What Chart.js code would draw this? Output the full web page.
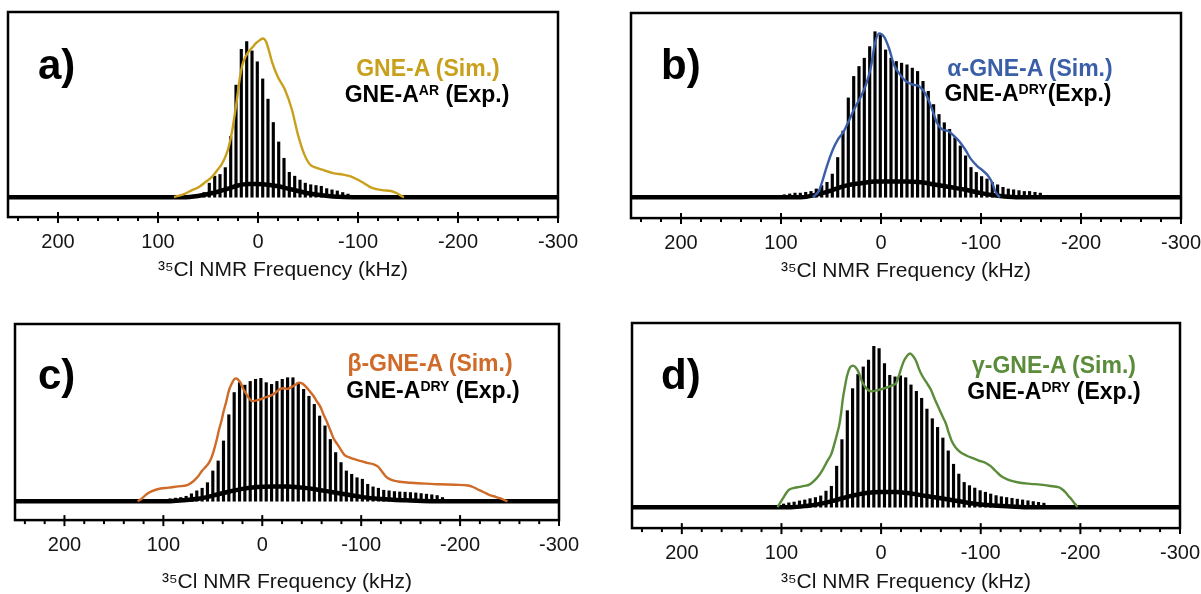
<!DOCTYPE html>
<html>
<head>
<meta charset="utf-8">
<script src="https://cdn.jsdelivr.net/npm/chart.js@4.4.1/dist/chart.umd.min.js"></script>
<style>
  body { margin: 0; background: #fff; }
  #wrap { position: relative; width: 1201px; height: 594px; overflow: hidden; font-family: "Liberation Sans", Arial, sans-serif; }
  #wrap canvas { position: absolute; left: 0; top: 0; }
  .tag { position: absolute; font-weight: bold; font-size: 42px; line-height: 42px; color: #000; }
  .key { position: absolute; width: 240px; text-align: center; font-weight: bold; font-size: 23px; line-height: 23px; white-space: nowrap; color: #000; }
  .key sup { font-size: 14px; line-height: 14px; vertical-align: top; }
</style>
</head>
<body>
<div id="wrap">
  <canvas id="pa" width="1201" height="594"></canvas>
  <canvas id="pb" width="1201" height="594"></canvas>
  <canvas id="pc" width="1201" height="594"></canvas>
  <canvas id="pd" width="1201" height="594"></canvas>

  <div class="tag" style="left:38px;top:44px">a)</div>
  <div class="key" style="left:308px;top:57px;color:#c9a01c">GNE-A (Sim.)</div>
  <div class="key" style="left:307px;top:83px">GNE-A<sup>AR</sup> (Exp.)</div>

  <div class="tag" style="left:661px;top:44px">b)</div>
  <div class="key" style="left:910px;top:57px;color:#3a5fa8">α-GNE-A (Sim.)</div>
  <div class="key" style="left:908px;top:82px">GNE-A<sup>DRY</sup>(Exp.)</div>

  <div class="tag" style="left:38px;top:354px">c)</div>
  <div class="key" style="left:310px;top:352px;color:#cf6a28">β-GNE-A (Sim.)</div>
  <div class="key" style="left:313px;top:379px">GNE-A<sup>DRY</sup> (Exp.)</div>

  <div class="tag" style="left:661px;top:354px">d)</div>
  <div class="key" style="left:934px;top:354px;color:#5a8c3a">γ-GNE-A (Sim.)</div>
  <div class="key" style="left:934px;top:380px">GNE-A<sup>DRY</sup> (Exp.)</div>
</div>

<script>
// frequency axis (kHz)
const tickKHz = [240, 220, 200, 180, 160, 140, 120, 100, 80, 60, 40, 20, 0, -20, -40, -60, -80, -100,
  -120, -140, -160, -180, -200, -220, -240, -260, -280, -300];
const labelKHz = [200, 100, 0, -100, -200, -300];

// a) GNE-A AR, spikelets + broad underlying hump, and GNE-A simulation
const aSpikeKHz = [64.7, 59.3, 54, 48.7, 43.3, 38, 32.7, 27.3, 22, 16.7, 11.3, 6, 0.7, -4.7, -10, -15.3, -20.7,
  -26, -31.3, -36.7, -42, -47.3, -52.7, -58, -63.3, -68.7, -74, -79.3, -84.7, -90];
const aSpikeInt = [1, 1.5, 3, 9, 13.5, 14.6, 19, 39, 72, 95, 100, 94, 87, 76, 63, 48, 35.5,
  25, 16, 13.5, 11, 9, 8, 7.5, 7, 5.5, 4.7, 4, 3, 2];
const aHumpKHz = [250, 75, 60, 50, 40, 30, 20, 10, 0, -10, -20, -30, -40, -50, -60, -75, -95, -300];
const aHumpInt = [0, 0, 0.8, 2, 3.5, 5.5, 7.5, 8.5, 8.5, 8, 7, 5.5, 4, 2.5, 1.5, 0.5, 0, 0];
const aSimKHz = [84, 74, 66, 59, 52, 46, 40, 36, 32, 29, 26, 24, 21, 19, 16, 14, 10, 6, 2, -2, -5, -8, -11, -14,
  -20, -27, -34, -40, -46, -52, -58, -65, -75, -85, -92, -99, -106, -114, -124, -133, -139, -144, -146];
const aSimInt = [0, 2, 4.5, 6.5, 10, 13, 18, 21.5, 27, 33, 42, 50, 63, 73, 84, 88, 93, 96, 99, 101, 102, 100, 94, 87,
  77, 69, 56, 40, 28, 21, 19, 17.5, 15.5, 14.5, 13.5, 11.5, 9, 6, 4.5, 4, 2.5, 0.5, 0];

// b) GNE-A DRY with alpha-GNE-A simulation
const bSpikeKHz = [96.7, 91.3, 86, 80.7, 75.3, 70, 64.7, 59.3, 54, 48.7, 43.3, 38, 32.7, 27.3, 22, 16.7, 11.3, 6,
  0.7, -4.6, -10, -15.3, -20.6, -26, -31.3, -36.6, -42, -47.3, -52.6, -58, -63.3, -68.6, -74, -79.3, -84.6, -90,
  -95.3, -100.6, -106, -111.3, -116.6, -122, -127.3, -132.6, -138, -143.3, -148.6, -154, -159.3];
const bSpikeInt = [1.5, 2, 2.5, 2.5, 3, 3.5, 5, 7, 9, 14, 24, 40, 60, 73, 79, 84, 91, 100,
  98, 89, 84, 82, 81, 80, 78, 76, 70, 64, 56, 50, 45, 41, 36, 31, 25, 18,
  15, 12.5, 11, 9, 7.5, 6, 5, 4.5, 4, 3.5, 3.5, 3, 2.5];
const bHumpKHz = [250, 80, 65, 50, 35, 20, 5, -10, -25, -40, -55, -70, -85, -100, -115, -135, -300];
const bHumpInt = [0, 0, 1.5, 4, 7, 8.5, 9.5, 9.5, 9.5, 9, 7.5, 6, 4.5, 2.5, 1, 0, 0];
const bSimKHz = [68, 62, 58, 54, 48, 43, 38, 33, 27, 20, 15, 10, 6, 2, -3, -8, -13, -18, -25, -32, -38, -45, -50,
  -56, -61, -67, -73, -78, -84, -90, -96, -102, -107, -111, -114, -117, -119];
const bSimInt = [0, 4, 11, 19, 29, 35, 39, 45, 53, 61, 68, 79, 93, 99, 97, 90, 80, 75, 70, 68, 67, 62, 55,
  45, 41, 40, 37, 34, 29, 23, 19, 16, 13, 9, 4, 1, 0];

// c) GNE-A DRY with beta-GNE-A simulation
const cSpikeKHz = [98.6, 93.2, 87.8, 82.4, 77, 71.6, 66.2, 60.8, 55.4, 50, 44.6, 39.2, 33.8, 28.4, 23, 17.6, 12.2,
  6.8, 1.4, -4, -9.4, -14.8, -20.2, -25.6, -31, -36.4, -41.8, -47.2, -52.6, -58, -63.4, -68.8, -74.2, -79.6, -85,
  -90.4, -95.8, -101.2, -106.6, -112, -117.4, -122.8, -128.2, -133.6, -139, -144.4, -149.8, -155.2, -160.6, -166,
  -171.4, -176.8, -182.2];
const cSpikeInt = [1.5, 2, 2.5, 3, 4, 6, 8.4, 10.5, 15, 24.5, 32.6, 48.8, 70, 88, 96, 94, 97,
  98.7, 99.5, 96, 94.6, 97, 98.7, 100, 100, 96, 90.6, 85, 78.4, 69, 61, 50, 39.4, 31.3, 24.5,
  21.8, 19, 17.8, 13.7, 11.6, 10.5, 8.9, 8.4, 7.8, 7.5, 7.3, 7, 6.7, 6.2, 5.7,
  5.2, 4.6, 3];
const cHumpKHz = [250, 95, 80, 65, 50, 35, 20, 5, -10, -25, -40, -55, -70, -85, -100, -120, -145, -170, -300];
const cHumpInt = [0, 0, 0.8, 2, 4.5, 7.5, 10, 11.5, 12, 12, 11, 9.5, 7.5, 5.5, 3.5, 1.8, 0.7, 0, 0];
const cSimKHz = [126, 122, 117, 112, 106, 95, 85, 76, 70, 65, 61, 57, 54, 51, 49, 46, 44, 41, 39, 36, 34, 31, 28,
  26, 24, 22, 20, 17, 14, 10, 4, -3, -11, -15, -18, -22, -25, -30, -34, -37, -41, -45, -48, -52, -55, -59, -62,
  -66, -69, -72, -76, -80, -83, -88, -93, -100, -106, -112, -117, -121, -125, -130, -137, -150, -165, -180, -195,
  -208, -213, -218, -222, -226, -230, -236, -241, -246, -248];
const cSimInt = [0, 2, 5.7, 8, 9.7, 11, 12, 13, 16, 20, 24.5, 28, 31, 36, 41, 50, 57, 66, 73, 82, 89, 95, 99,
  99.5, 98, 96, 92, 88, 84, 81, 82, 84, 86.5, 89, 91, 91.5, 91, 92.5, 94.5, 96, 95, 92, 89, 85, 81, 76, 70,
  63, 57, 51, 46, 41, 37.5, 35.5, 34, 32.5, 31, 30, 28, 24, 20, 17.5, 16, 15, 14.2, 13.7, 13.3,
  12.7, 11.5, 9.5, 8, 6.5, 5, 3.5, 2.2, 0.5, 0];

// d) GNE-A DRY with gamma-GNE-A simulation
const dSpikeKHz = [97.9, 92.6, 87.3, 81.9, 76.6, 71.3, 65.9, 60.6, 55.3, 49.9, 44.6, 39.3, 33.9, 28.6, 23.3, 17.9,
  12.6, 7.3, 2, -3.4, -8.7, -14, -19.4, -24.7, -30, -35.4, -40.7, -46, -51.4, -56.7, -62, -67.4, -72.7, -78,
  -83.4, -88.7, -94, -99.4, -104.7, -110, -115.4, -120.7, -126, -131.4, -136.7, -142, -147.4, -152.7, -158, -163.4];
const dSpikeInt = [2, 2.7, 3.2, 3.9, 4.5, 5.3, 6, 7, 10, 13, 25.5, 42, 60, 73.7, 82.5, 87.2,
  91.4, 100, 98.6, 89.3, 82, 81, 81.7, 80.5, 76, 72, 67.7, 61, 55, 49.6, 43, 35, 26.7, 20.6,
  15.4, 13.4, 11.9, 10.3, 9.3, 8.2, 7.2, 6.5, 6, 5.5, 5, 4.5, 4, 3.5, 3, 2.5];
const dHumpKHz = [250, 90, 75, 60, 45, 30, 15, 0, -15, -30, -45, -60, -75, -90, -110, -130, -150, -300];
const dHumpInt = [0, 0, 0.8, 2.2, 4.5, 7, 8.8, 9.5, 9.5, 8.5, 7, 5.5, 4, 2.5, 1.2, 0.5, 0, 0];
const dSimKHz = [104, 101, 98, 95, 92, 87, 82, 77, 72, 67, 62, 58, 54, 50, 47, 44, 42, 40, 38.7, 36, 34, 31, 28,
  25, 22, 19, 15, 10, 2, -4, -8, -12, -15, -18, -20, -23, -26, -29, -32, -35, -38, -41, -45, -50, -54, -58, -62,
  -65, -68, -71, -75, -80, -86, -92, -98, -105, -110, -115, -120, -126, -133, -141, -150, -160, -170, -178, -182,
  -185, -188, -191, -194, -196, -197];
const dSimInt = [0, 3, 6, 9, 11, 12, 12.6, 13.2, 14, 16.5, 20, 24, 28.6, 33, 39, 46, 51, 59, 66, 76, 82, 87, 88,
  86.5, 83, 78, 74, 72, 73, 74, 75, 76, 77, 82, 86, 91, 94, 95.5, 94, 91, 86, 82, 78, 73, 67, 61.5, 56,
  52, 46, 41, 37, 34, 32, 30.5, 29, 27.5, 25.5, 22.5, 19.5, 17.5, 16, 15, 14.5, 14, 13.2, 12.4, 11,
  9.3, 7, 5, 2.5, 1, 0];

function pts(xs, ys) {
  return xs.map((x, i) => ({ x: x, y: ys[i] }));
}

// box around the plot area plus long/short ticks on the frequency axis
const frame = {
  id: 'frame',
  afterDraw(chart) {
    const { ctx, chartArea: a } = chart;
    const x = chart.scales.x;
    ctx.save();
    ctx.strokeStyle = '#000';
    ctx.lineWidth = 2.5;
    ctx.strokeRect(a.left, a.top, a.right - a.left, a.bottom - a.top);
    ctx.lineWidth = 2;
    x.ticks.forEach(t => {
      const px = x.getPixelForValue(t.value);
      const major = labelKHz.includes(t.value);
      ctx.beginPath();
      ctx.moveTo(px, major ? a.bottom - 5 : a.bottom);
      ctx.lineTo(px, a.bottom + (major ? 6 : 4));
      ctx.stroke();
    });
    ctx.restore();
  }
};

function drawPanel(id, p) {
  new Chart(document.getElementById(id), {
    type: 'line',
    data: {
      datasets: [
        {
          data: pts(p.simKHz, p.simInt),
          borderColor: p.color,
          borderWidth: 2.4,
          pointRadius: 0,
          cubicInterpolationMode: 'monotone'
        },
        {
          data: pts(p.humpKHz, p.humpInt),
          borderColor: '#000',
          borderWidth: 4.5,
          pointRadius: 0,
          cubicInterpolationMode: 'monotone'
        },
        {
          type: 'bar',
          data: pts(p.spikeKHz, p.spikeInt),
          backgroundColor: '#000',
          borderWidth: 0,
          barThickness: 2.5,
          grouped: false
        }
      ]
    },
    options: {
      responsive: false,
      animation: false,
      layout: { padding: p.pad },
      plugins: { legend: { display: false }, tooltip: { enabled: false } },
      scales: {
        x: {
          type: 'linear',
          reverse: true,
          min: -300,
          max: 250,
          offset: false,
          afterBuildTicks: s => { s.ticks = tickKHz.map(v => ({ value: v })); },
          afterFit: s => { s.paddingLeft = 0; s.paddingRight = 0; },
          grid: { drawOnChartArea: false, tickLength: 6, tickColor: 'rgba(0,0,0,0)' },
          border: { display: false },
          ticks: {
            autoSkip: false,
            maxRotation: 0,
            padding: 7,
            color: '#151515',
            font: { family: '"Liberation Sans", Arial, sans-serif', size: 20 },
            callback: v => labelKHz.includes(v) ? String(v) : ''
          },
          title: {
            display: true,
            text: '³⁵Cl NMR Frequency (kHz)',
            color: '#151515',
            font: { family: '"Liberation Sans", Arial, sans-serif', size: 21, lineHeight: 0.9 },
            padding: { top: p.titleGap, bottom: 0 }
          }
        },
        y: { display: false, min: p.yMin, max: p.yMax }
      }
    },
    plugins: [frame]
  });
}

drawPanel('pa', {
  spikeKHz: aSpikeKHz, spikeInt: aSpikeInt, humpKHz: aHumpKHz, humpInt: aHumpInt,
  simKHz: aSimKHz, simInt: aSimInt, color: '#c9a01c',
  pad: { left: 8, right: 643, top: 12, bottom: 314 }, titleGap: 0, yMin: -12.8, yMax: 119
});
drawPanel('pb', {
  spikeKHz: bSpikeKHz, spikeInt: bSpikeInt, humpKHz: bHumpKHz, humpInt: bHumpInt,
  simKHz: bSimKHz, simInt: bSimInt, color: '#3a5fa8',
  pad: { left: 631, right: 20, top: 13, bottom: 313 }, titleGap: 0, yMin: -12.6, yMax: 111.3
});
drawPanel('pc', {
  spikeKHz: cSpikeKHz, spikeInt: cSpikeInt, humpKHz: cHumpKHz, humpInt: cHumpInt,
  simKHz: cSimKHz, simInt: cSimInt, color: '#cf6a28',
  pad: { left: 15, right: 642, top: 324, bottom: 2 }, titleGap: 9, yMin: -15.3, yMax: 143.5
});
drawPanel('pd', {
  spikeKHz: dSpikeKHz, spikeInt: dSpikeInt, humpKHz: dHumpKHz, humpInt: dHumpInt,
  simKHz: dSimKHz, simInt: dSimInt, color: '#5a8c3a',
  pad: { left: 632, right: 21, top: 323, bottom: 2 }, titleGap: 1, yMin: -13, yMax: 114.5
});
</script>
</body>
</html>
